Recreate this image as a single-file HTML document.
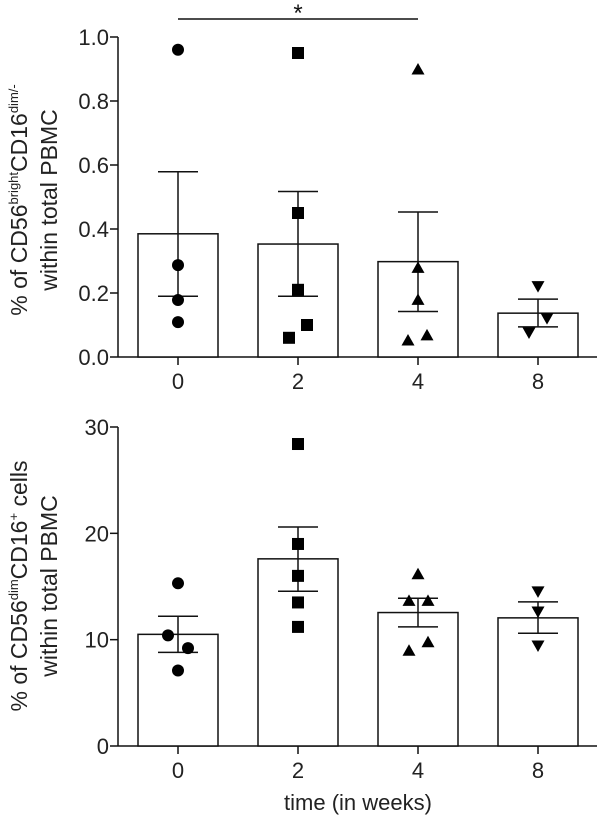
<!DOCTYPE html>
<html><head><meta charset="utf-8"><style>
html,body{margin:0;padding:0;background:#fff;}
svg{display:block;font-family:"Liberation Sans",Arial,sans-serif;}
</style></head>
<body>
<svg id="chart" width="604" height="826" viewBox="0 0 604 826" xmlns="http://www.w3.org/2000/svg">
<g id="top"></g>
<g id="bot"></g>
<text x="358" y="810" font-size="22" text-anchor="middle" fill="#222">time (in weeks)</text>
<text transform="translate(27,200) rotate(-90)" font-size="23" text-anchor="middle" fill="#222">% of CD56<tspan font-size="13" dy="-9">bright</tspan><tspan dy="9">CD16</tspan><tspan font-size="13" dy="-9">dim/-</tspan></text>
<text transform="translate(57,200) rotate(-90)" font-size="23" text-anchor="middle" fill="#222">within total PBMC</text>
<text transform="translate(27,586) rotate(-90)" font-size="23" text-anchor="middle" fill="#222">% of CD56<tspan font-size="13" dy="-9">dim</tspan><tspan dy="9">CD16</tspan><tspan font-size="13" dy="-9">+</tspan><tspan dy="9"> cells</tspan></text>
<text transform="translate(57,586) rotate(-90)" font-size="23" text-anchor="middle" fill="#222">within total PBMC</text>
<line x1="178" y1="19" x2="418" y2="19" stroke="#111" stroke-width="1.5"/>
<text x="298" y="21" font-size="24" text-anchor="middle" fill="#111">*</text>
</svg>
<script>
const categories = ["0","2","4","8"];
const shapes = ["circle","square","triangle","tridown"];
// top panel data
const topMeans = [0.385, 0.353, 0.298, 0.137];
const topUpper = [0.579, 0.517, 0.453, 0.181];
const topLower = [0.19, 0.19, 0.142, 0.094];
const topPoints = [[0.96,0.287,0.178,0.109],[0.95,0.45,0.21,0.10,0.06],[0.90,0.28,0.18,0.069,0.053],[0.22,0.12,0.075]];
const topOffsets = [[0,0,0,0],[0,0,0,9,-9],[0,0,0,9,-10],[0,9,-9]];
const topTicks = ["0.0","0.2","0.4","0.6","0.8","1.0"];
// bottom panel data
const botMeans = [10.5, 17.6, 12.55, 12.05];
const botUpper = [12.2, 20.6, 13.9, 13.55];
const botLower = [8.8, 14.55, 11.2, 10.6];
const botPoints = [[15.3,10.4,9.2,7.1],[28.4,19.0,16.0,13.5,11.2],[16.2,13.7,13.7,9.8,9.0],[14.5,12.6,9.4]];
const botOffsets = [[0,-10,10,0],[0,0,0,0,0],[0,-9,10,10,-9],[0,0,0]];
const botTicks = ["0","10","20","30"];

const NS="http://www.w3.org/2000/svg";
function mk(parent,tag,attrs){const e=document.createElementNS(NS,tag);for(const k in attrs)e.setAttribute(k,attrs[k]);parent.appendChild(e);return e;}
const xScale = i => 178 + i*120;

function panel(g, y0, y1, vmax, ticks, means, up, lo, pts, offs){
  const y = v => y0 - (v/vmax)*(y0-y1);
  const ax = mk(g,'line',{x1:118,y1:y1,x2:118,y2:y0,stroke:'#111','stroke-width':1.5});
  
  
  const xa = mk(g,'line',{x1:118,y1:y0,x2:597,y2:y0,stroke:'#111','stroke-width':1.5});
  
  
  ticks.forEach(t=>{
    const v=parseFloat(t), yy=y(v);
    mk(g,'line',{x1:110,y1:yy,x2:118,y2:yy,stroke:'#111','stroke-width':1.5});
    const tx=mk(g,'text',{x:109,y:yy+8,'font-size':22,'text-anchor':'end',fill:'#222'});
    tx.textContent=t;
    
    
  });
  categories.forEach((c,i)=>{
    const cx=xScale(i);
    mk(g,'line',{x1:cx,y1:y0,x2:cx,y2:y0+8,stroke:'#111','stroke-width':1.5});
    const tx=mk(g,'text',{x:cx,y:y0+32,'font-size':22,'text-anchor':'middle',fill:'#222'});
    tx.textContent=c;
    
    
    const bar=mk(g,'rect',{x:cx-40,y:y(means[i]),width:80,height:y0-y(means[i]),fill:'#fff',stroke:'#111','stroke-width':1.5});
    
    
    const eb=mk(g,'g',{stroke:'#111','stroke-width':1.5});
    
    
    mk(eb,'line',{x1:cx,y1:y(up[i]),x2:cx,y2:y(lo[i])});
    mk(eb,'line',{x1:cx-20,y1:y(up[i]),x2:cx+20,y2:y(up[i])});
    mk(eb,'line',{x1:cx-20,y1:y(lo[i]),x2:cx+20,y2:y(lo[i])});
    pts[i].forEach((v,j)=>{
      const px=cx+offs[i][j], py=y(v); let m;
      if(shapes[i]==='circle') m=mk(g,'circle',{cx:px,cy:py,r:6,fill:'#000'});
      else if(shapes[i]==='square') m=mk(g,'rect',{x:px-6,y:py-6,width:12,height:12,fill:'#000'});
      else if(shapes[i]==='triangle') m=mk(g,'polygon',{points:`${px},${py-6} ${px-6.5},${py+5.5} ${px+6.5},${py+5.5}`,fill:'#000'});
      else m=mk(g,'polygon',{points:`${px},${py+6} ${px-6.5},${py-5.5} ${px+6.5},${py-5.5}`,fill:'#000'});
      
      
    });
  });
}
panel(document.getElementById('top'),357,37,1.0,topTicks,topMeans,topUpper,topLower,topPoints,topOffsets);
panel(document.getElementById('bot'),746,427,30,botTicks,botMeans,botUpper,botLower,botPoints,botOffsets);
</script>
</body></html>
